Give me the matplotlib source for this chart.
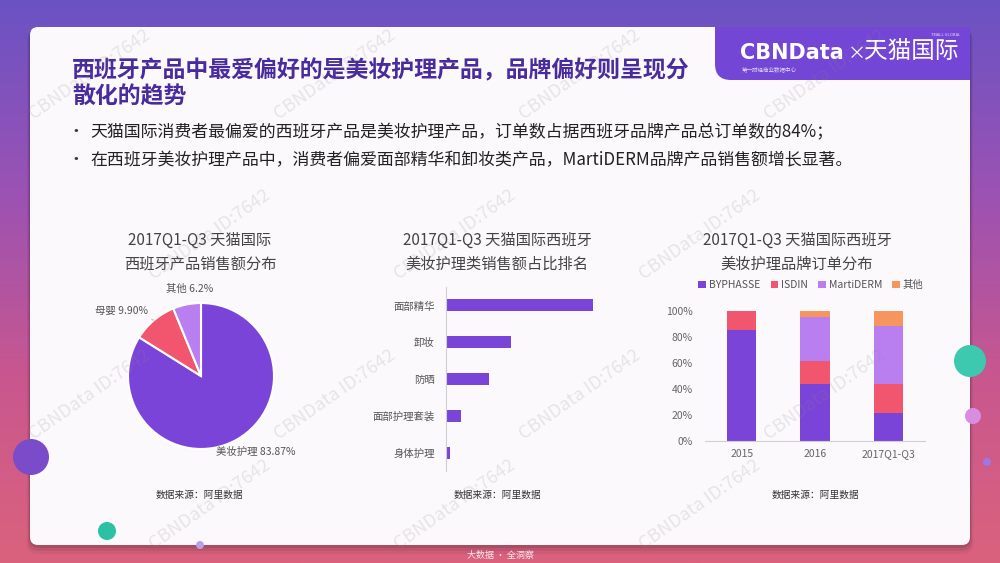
import numpy as np
import matplotlib
matplotlib.use("Agg")
import matplotlib.pyplot as plt
from matplotlib.patches import FancyBboxPatch, Rectangle, Circle
from matplotlib.colors import LinearSegmentedColormap

plt.rcParams["font.family"] = ["Noto Sans CJK SC", "DejaVu Sans"]

W, H = 1000, 563

# ---------- data ------------------------------------------------------------
pie_names = ["美妆护理", "母婴", "其他"]
pie_values = [83.87, 9.90, 6.2]
pie_value_text = ["83.87%", "9.90%", "6.2%"]

bar_cats = ["面部精华", "卸妆", "防晒", "面部护理套装", "身体护理"]
bar_vals = [100, 44, 29.5, 10, 3]

years = ["2015", "2016", "2017Q1-Q3"]
brands = ["BYPHASSE", "ISDIN", "MartiDERM", "其他"]
byphasse = [85.2, 43.5, 21.3]
isdin = [14.8, 17.9, 22.5]
martiderm = [0, 33.9, 44.3]
others = [0, 4.7, 11.9]

pct_ticks = [0, 20, 40, 60, 80, 100]

# ---------- colours ---------------------------------------------------------
PURPLE = "#7b44d8"
RED = "#f2566e"
LILAC = "#b97ff0"
ORANGE = "#f7955e"
TITLE_C = "#4a2b9e"

fig = plt.figure(figsize=(10, 5.63), dpi=100)


def px_axes(x0, y0, x1, y1):
    """axes from pixel box (top-left origin)"""
    return fig.add_axes([x0 / W, 1 - y1 / H, (x1 - x0) / W, (y1 - y0) / H])


# ---------- background ------------------------------------------------------
bg = fig.add_axes([0, 0, 1, 1])
bg.set_xlim(0, W)
bg.set_ylim(H, 0)
bg.axis("off")

cmap = LinearSegmentedColormap.from_list("bg", ["#6a53c3", "#9a52b4", "#c8578f", "#db627d"])
bg.imshow(np.linspace(0, 1, 256)[:, None], extent=(0, W, H, 0), cmap=cmap,
          aspect="auto", zorder=0)

# card shadow + card
for k, a in [(6, 0.05), (4, 0.07), (2, 0.10)]:
    bg.add_patch(FancyBboxPatch((30 - k / 2, 27 + k / 2), 940 + k, 518 + k,
                                boxstyle="round,pad=0,rounding_size=10",
                                fc="black", ec="none", alpha=a, zorder=1))
bg.add_patch(FancyBboxPatch((30, 27), 940, 518,
                            boxstyle="round,pad=0,rounding_size=8",
                            fc="#fbf9fb", ec="none", zorder=2))

# logo box
bg.add_patch(FancyBboxPatch((715, 27), 255, 53,
                            boxstyle="round,pad=0,rounding_size=16",
                            fc="#7446d6", ec="none", zorder=3))
bg.add_patch(Rectangle((715, 27), 255, 25, fc="#7446d6", ec="none", zorder=3))
bg.add_patch(Rectangle((800, 27), 170, 53, fc="#7446d6", ec="none", zorder=3))
bg.text(740, 53, "CBNData", color="white", fontsize=15, weight="bold",
        ha="left", va="center", zorder=4, family="DejaVu Sans")
bg.text(848, 54, "×", color="white", fontsize=13, ha="left", va="center", zorder=4)
bg.text(864, 52, "天猫国际", color="white", fontsize=17, ha="left", va="center", zorder=4)
bg.text(960, 35, "TMALL GLOBAL", color="white", fontsize=3, ha="right",
        va="center", zorder=4, alpha=0.8)
bg.text(742, 69, "第一财经商业数据中心", color="white", fontsize=4, ha="left",
        va="center", zorder=4, alpha=0.8)

# decorative dots
for (cx, cy, r, c) in [(31, 457, 18, "#7a4cc9"), (107, 531, 9, "#2cc0a4"),
                       (200, 545, 4, "#b9a0e8"), (970, 361, 16, "#3cc9b0"),
                       (973, 416, 8, "#d98de0"), (987, 462, 4, "#9a78e8")]:
    bg.add_patch(Circle((cx, cy), r, fc=c, ec="none", zorder=5))

bg.text(500, 555, "大数据 · 全洞察", color="white", fontsize=6.5, ha="center",
        va="center", alpha=0.85, zorder=4)

# ---------- headline & bullets ---------------------------------------------
bg.text(72, 71, "西班牙产品中最爱偏好的是美妆护理产品，品牌偏好则呈现分",
        color=TITLE_C, fontsize=16.5, weight="bold", ha="left", va="center", zorder=4)
bg.text(72, 97, "散化的趋势", color=TITLE_C, fontsize=16.5, weight="bold",
        ha="left", va="center", zorder=4)

bullets = ["天猫国际消费者最偏爱的西班牙产品是美妆护理产品，订单数占据西班牙品牌产品总订单数的84%；",
           "在西班牙美妆护理产品中，消费者偏爱面部精华和卸妆类产品，MartiDERM品牌产品销售额增长显著。"]
for i, b in enumerate(bullets):
    y = 132 + 28 * i
    bg.text(76, y, "•", color="#333", fontsize=12, ha="center", va="center", zorder=4)
    bg.text(90, y, b, color="#222", fontsize=12.2, ha="left", va="center", zorder=4)

# chart titles and sources
for cx, lines, src_x in [(200, ["2017Q1-Q3 天猫国际", "西班牙产品销售额分布"], 200),
                         (497, ["2017Q1-Q3 天猫国际西班牙", "美妆护理类销售额占比排名"], 498),
                         (797, ["2017Q1-Q3 天猫国际西班牙", "美妆护理品牌订单分布"], 815)]:
    bg.text(cx, 240, lines[0], color="#444", fontsize=11, ha="center", va="center", zorder=4)
    bg.text(cx, 264, lines[1], color="#444", fontsize=11, ha="center", va="center", zorder=4)
    bg.text(src_x, 495, "数据来源：阿里数据", color="#333", fontsize=7, ha="center",
            va="center", zorder=4)

# ---------- pie -------------------------------------------------------------
ax1 = px_axes(128, 303, 274, 449)
wedges, _ = ax1.pie(pie_values, colors=[PURPLE, RED, LILAC], startangle=90,
                    counterclock=False,
                    wedgeprops=dict(edgecolor="white", linewidth=1.5))
ax1.set_xlim(-1, 1)
ax1.set_ylim(-1, 1)
ax1.set_aspect("equal")

lbl_kw = dict(fontsize=7.5, color="#555")
ax1.text(0.75, -1.04, f"{pie_names[0]} {pie_value_text[0]}", ha="center", va="center", **lbl_kw)
ax1.text(-0.15, 1.19, f"{pie_names[2]} {pie_value_text[2]}", ha="center", va="center", **lbl_kw)
w = wedges[1]
mid = np.deg2rad((w.theta1 + w.theta2) / 2)
ax1.annotate(f"{pie_names[1]} {pie_value_text[1]}", xy=(np.cos(mid), np.sin(mid)),
             xytext=(-0.72, 0.89), ha="right", va="center",
             arrowprops=dict(arrowstyle="-", color="#aaa", lw=0.6), **lbl_kw)

# ---------- horizontal bars -------------------------------------------------
ax2 = px_axes(446, 287, 600, 471)
ax2.set_facecolor("none")
ax2.barh(range(len(bar_cats)), bar_vals, height=0.33, color=PURPLE)
ax2.set_ylim(len(bar_cats) - 0.5, -0.5)
ax2.set_xlim(0, 105)
ax2.set_yticks(range(len(bar_cats)))
ax2.set_yticklabels(bar_cats, fontsize=7.5, color="#555")
ax2.tick_params(axis="y", length=0, pad=8)
ax2.set_xticks([])
for s in ["top", "right", "bottom"]:
    ax2.spines[s].set_visible(False)
ax2.spines["left"].set_color("#d0d0d0")

# ---------- stacked bars ----------------------------------------------------
ax3 = px_axes(705, 311, 925, 441)
ax3.set_facecolor("none")
xs = np.arange(len(years))
bottom = np.zeros(len(years))
for name, vals, col in zip(brands, [byphasse, isdin, martiderm, others],
                           [PURPLE, RED, LILAC, ORANGE]):
    ax3.bar(xs, vals, width=0.4, bottom=bottom, color=col, label=name)
    bottom += np.array(vals)
ax3.set_xlim(-0.5, 2.5)
ax3.set_ylim(0, 100)
ax3.set_yticks(pct_ticks)
ax3.set_yticklabels([f"{t}%" for t in pct_ticks], fontsize=7.5, color="#666")
ax3.set_xticks(xs)
ax3.set_xticklabels(years, fontsize=7.5, color="#666")
ax3.tick_params(axis="y", length=0, pad=9)
ax3.tick_params(axis="x", length=0, pad=6)
for s in ["top", "right", "left"]:
    ax3.spines[s].set_visible(False)
ax3.spines["bottom"].set_color("#d0d0d0")
ax3.legend(ncol=4, loc="center", bbox_to_anchor=(811 / W, 1 - 285 / H),
           bbox_transform=fig.transFigure, frameon=False, fontsize=7.5,
           handlelength=0.7, handleheight=0.7, handletextpad=0.3,
           columnspacing=1.0, labelcolor="#555")

# ---------- watermarks ------------------------------------------------------
for row, y in enumerate([75, 235, 395, 505]):
    for x in np.arange(90 + 120 * (row % 2), 940, 245):
        fig.text(x / W, 1 - y / H, "CBNData ID:7642", rotation=35, fontsize=13,
                 color="#888", alpha=0.18, ha="center", va="center", zorder=10)

fig.savefig("out.png", dpi=100)
